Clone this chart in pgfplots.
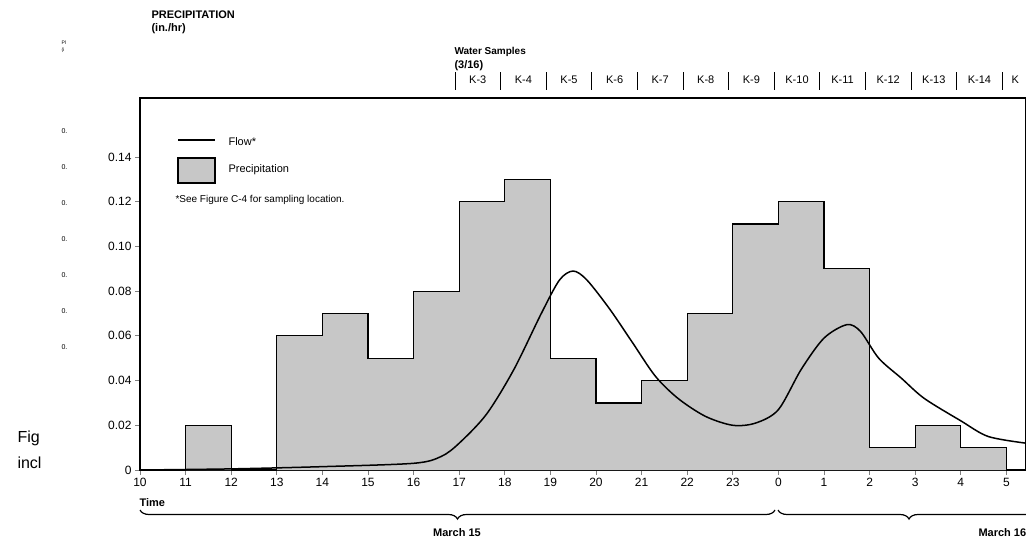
\documentclass[border=0pt]{standalone}
\usepackage{pgfplots}
\pgfplotsset{compat=1.18}
\usepackage{fontspec}
\setmainfont{Liberation Sans}
\usetikzlibrary{decorations.pathreplacing,patterns}
\begin{document}
\begin{tikzpicture}[x=1pt,y=1pt]
\useasboundingbox (0,0) rectangle (1026,555);
\begin{axis}[at={(140pt,85pt)},anchor=origin,scale only axis,width=886pt,height=372pt,
  xmin=10,xmax=29.43,ymin=0,ymax=0.1664,
  axis line style={line width=1.2pt},
  xtick={10,11,...,29},xticklabels={10,11,12,13,14,15,16,17,18,19,20,21,22,23,0,1,2,3,4,5},
  ytick={0,0.02,0.04,0.06,0.08,0.10,0.12,0.14},
  yticklabels={0,0.02,0.04,0.06,0.08,0.10,0.12,0.14},
  ticklabel style={font=\fontsize{12}{14}\selectfont},
  tick align=outside,major tick length=5pt,tick style={line width=1pt},
  xtick pos=bottom,ytick pos=left,clip=false]
\addplot[const plot,fill=black!22,draw=black,line width=1.2pt] coordinates {
(11,0) (11,0.02) (12,0) (13,0.06) (14,0.07) (15,0.05) (16,0.08) (17,0.12) (18,0.13) (19,0.05) (20,0.03) (21,0.04) (22,0.07) (23,0.11) (24,0.12) (25,0.09) (26,0.01) (27,0.02) (28,0.01) (29,0) (29.43,0)};
\addplot[smooth,black,line width=1.5pt,tension=0.5] coordinates {
(10,0) (12,0.0005) (14,0.0015) (16,0.003) (16.6,0.006) (17,0.012) (17.6,0.025) (18.2,0.045) (18.8,0.07) (19.2,0.085) (19.5,0.089) (19.8,0.085) (20.3,0.072) (20.8,0.057) (21.3,0.042) (21.8,0.032) (22.4,0.024) (23,0.02) (23.5,0.021) (24,0.027) (24.5,0.045) (25,0.059) (25.5,0.065) (25.8,0.062) (26.2,0.05) (26.7,0.041) (27.2,0.032) (28,0.022) (28.6,0.015) (29.43,0.012)};
\end{axis}
\draw[line width=1.2pt] (140,457) -- (1026,457);
% legend
\draw[line width=1.5pt] (178,415) -- (215,415);
\node[anchor=west,font=\fontsize{11}{13}\selectfont] at (225,413) {Flow*};
\draw[fill=black!22,line width=1.2pt] (178,372) rectangle (215,397);
\node[anchor=west,font=\fontsize{11}{13}\selectfont] at (225,385) {Precipitation};
\node[anchor=west,font=\fontsize{10}{12}\selectfont] at (172,355) {*See Figure C-4 for sampling location.};
% top labels
\node[anchor=west,font=\bfseries\fontsize{11}{13}\selectfont] at (148,540) {PRECIPITATION};
\node[anchor=west,font=\bfseries\fontsize{11}{13}\selectfont] at (148,526) {(in./hr)};
\node[anchor=west,font=\bfseries\fontsize{10}{12}\selectfont] at (451,503) {Water Samples};
\node[anchor=west,font=\bfseries\fontsize{11}{13}\selectfont] at (451,489) {(3/16)};
\foreach \i [count=\n from 3] in {0,...,12} {
  \pgfmathsetmacro\xa{455+\i*45.6}
  \draw[line width=1pt] (\xa,465) -- (\xa,483);
  \ifnum\n<15 \node[font=\fontsize{11}{13}\selectfont] at (\xa+22.8,475) {K-\n};\fi
}
\node[anchor=west,font=\fontsize{11}{13}\selectfont] at (1008,475) {K};
% left junk
\node[font=\fontsize{5}{6}\selectfont,anchor=west] at (58,512) {Pl};
\node[font=\fontsize{5}{6}\selectfont,anchor=west] at (58,505) {(i};
\foreach \yy in {424,388,352,316,280,244,208} \node[font=\fontsize{7}{8}\selectfont,anchor=west] at (58,\yy) {0.};
\node[anchor=west,font=\fontsize{16}{18}\selectfont] at (14,117) {Fig};
\node[anchor=west,font=\fontsize{16}{18}\selectfont] at (14,92) {incl};
% time
\node[anchor=west,font=\bfseries\fontsize{11}{13}\selectfont] at (136,52) {Time};
\draw[decorate,decoration={brace,mirror,amplitude=9pt},line width=1.2pt] (140,45) -- (775,45);
\draw[decorate,decoration={brace,mirror,amplitude=9pt},line width=1.2pt] (778,45) -- (1040,45);
\node[font=\bfseries\fontsize{11}{13}\selectfont] at (457,22) {March 15};
\node[anchor=west,font=\bfseries\fontsize{11}{13}\selectfont] at (975,22) {March 16};
\end{tikzpicture}
\end{document}
